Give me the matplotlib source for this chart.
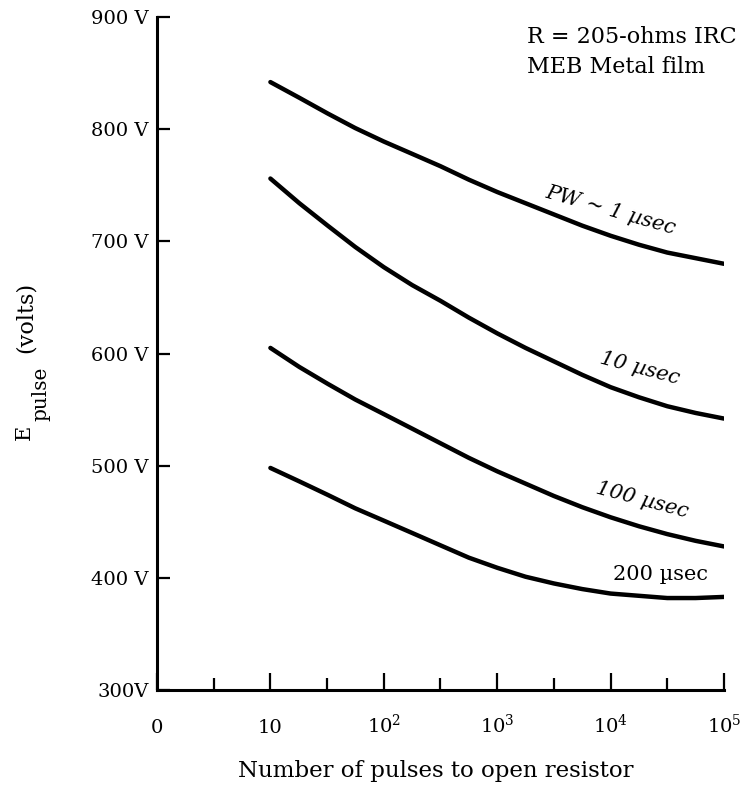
import numpy as np
import matplotlib
matplotlib.use("Agg")
import matplotlib.pyplot as plt

plt.rcParams["font.family"] = ["DejaVu Serif", "DejaVu Sans"]
plt.rcParams["mathtext.fontset"] = "dejavuserif"

# number of pulses (read at every quarter decade)
pulses = [10, 18, 32, 56, 100, 178, 316, 562, 1000, 1778, 3162, 5623,
          10000, 17783, 31623, 56234, 100000]

# E_pulse in volts for each pulse width
v_1us = [842, 828, 814, 801, 789, 778, 767, 755, 744, 734, 724, 714,
         705, 697, 690, 685, 680]
v_10us = [756, 734, 714, 695, 677, 661, 647, 632, 618, 605, 593, 581,
          570, 561, 553, 547, 542]
v_100us = [605, 588, 573, 559, 546, 533, 520, 507, 495, 484, 473, 463,
           454, 446, 439, 433, 428]
v_200us = [498, 486, 474, 462, 451, 440, 429, 418, 409, 401, 395, 390,
           386, 384, 382, 382, 383]

x_ticks = [1, 10, 100, 1000, 10000, 100000]
x_tick_labels = ["0", "10", "$10^2$", "$10^3$", "$10^4$", "$10^5$"]
y_ticks = [300, 400, 500, 600, 700, 800, 900]
y_tick_labels = ["300V", "400 V", "500 V", "600 V", "700 V", "800 V", "900 V"]


def main():
    fig = plt.figure(figsize=(7.42, 7.99), dpi=100)
    ax = fig.add_axes([0.2116, 0.1364, 0.7641, 0.8423])

    for v in [v_1us, v_10us, v_100us, v_200us]:
        ax.plot(pulses, v, color="black", lw=3.2, solid_capstyle="round",
                solid_joinstyle="round")

    ax.set_xscale("log")
    ax.set_xlim(1, 100000)
    ax.set_ylim(300, 900)

    ax.set_xticks(x_ticks)
    ax.set_xticklabels(x_tick_labels, fontsize=14)
    for lab in ax.get_xticklabels():
        lab.set_va("baseline")
    # minor ticks halfway between decades
    ax.set_xticks([10 ** (k + 0.5) for k in range(5)], minor=True)
    ax.set_xticklabels([], minor=True)
    ax.set_yticks(y_ticks)
    ax.set_yticklabels(y_tick_labels, fontsize=14)

    ax.tick_params(axis="x", which="major", direction="in", length=12, width=1.6, pad=31)
    ax.tick_params(axis="x", which="minor", direction="in", length=8.5, width=1.6)
    ax.tick_params(axis="y", which="major", direction="in", length=9, width=1.6, pad=6)

    for side in ["top", "right"]:
        ax.spines[side].set_visible(False)
    for side in ["left", "bottom"]:
        ax.spines[side].set_linewidth(2.2)

    ax.set_xlabel("Number of pulses to open resistor", fontsize=16.5)
    ax.xaxis.set_label_coords(0.492, -0.129)
    ax.xaxis.label.set_va("baseline")

    # y label: E with a full size "pulse" subscript, then (volts)
    fig.text(30 / 742, 1 - 440 / 799, "E", fontsize=15, rotation=90,
             rotation_mode="anchor", ha="left", va="baseline")
    fig.text(46 / 742, 1 - 421 / 799, "pulse", fontsize=14.5, rotation=90,
             rotation_mode="anchor", ha="left", va="baseline")
    fig.text(32 / 742, 1 - 353 / 799, "(volts)", fontsize=16, rotation=90,
             rotation_mode="anchor", ha="left", va="baseline")

    # curve labels
    ax.text(10000, 728, "PW ∼ 1 µsec", fontsize=15, rotation=-16,
            ha="center", va="center", style="italic")
    ax.text(18200, 587, "10 µsec", fontsize=15, rotation=-15,
            ha="center", va="center", style="italic")
    ax.text(19000, 469, "100 µsec", fontsize=15, rotation=-15,
            ha="center", va="center", style="italic")
    ax.text(27500, 403, "200 µsec", fontsize=15, ha="center", va="center")

    ax.text(0.6526, 0.9614, "R = 205-ohms IRC", transform=ax.transAxes,
            fontsize=16, ha="left", va="baseline", clip_on=False)
    ax.text(0.6526, 0.9168, "MEB Metal film", transform=ax.transAxes,
            fontsize=16, ha="left", va="baseline", clip_on=False)

    fig.savefig("out.png", dpi=100)


if __name__ == "__main__":
    main()
